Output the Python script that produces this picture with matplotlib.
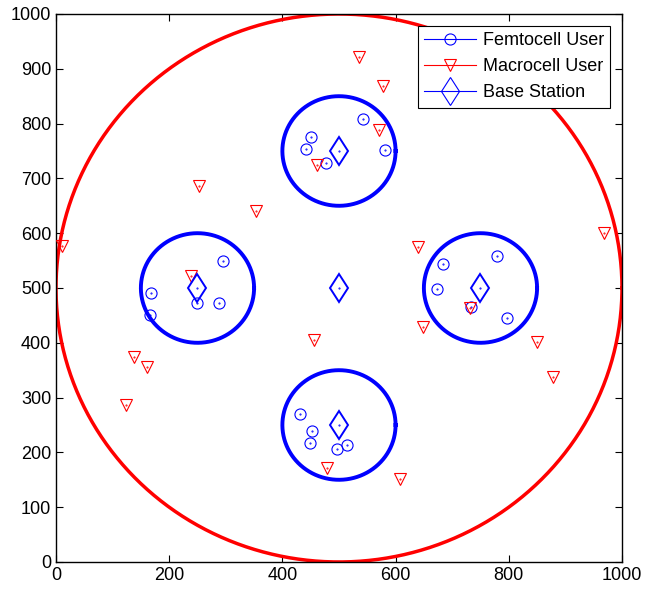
import numpy as np
import matplotlib
matplotlib.use('Agg')
import matplotlib.pyplot as plt
from matplotlib.lines import Line2D

plt.rcParams['font.family'] = ['Liberation Sans', 'DejaVu Sans']

# femtocell users
femto_x = [442, 450, 477, 542, 581, 168, 166, 249, 288, 295,
           684, 674, 780, 734, 796, 431, 452, 448, 496, 515]
femto_y = [754, 776, 728, 809, 751, 491, 450, 473, 473, 549,
           543, 499, 559, 465, 445, 270, 239, 218, 206, 214]

# macrocell users
macro_x = [11, 253, 353, 238, 137, 161, 124, 535, 578, 571,
           462, 640, 969, 649, 731, 850, 878, 608, 478, 456]
macro_y = [577, 686, 641, 521, 374, 355, 287, 922, 869, 788,
           725, 574, 600, 429, 463, 402, 338, 151, 171, 405]

# base stations: macro BS in the middle, four femto BS around it
bs_x = [500, 500, 250, 750, 500]
bs_y = [500, 750, 500, 500, 250]

macro_radius = 500
femto_radius = 100

fig = plt.figure(figsize=(6.57, 5.93), dpi=100)
ax = fig.add_axes([0.0852, 0.0523, 0.8615, 0.9241])

th = np.linspace(0, 2 * np.pi, 400)
ax.plot(bs_x[0] + macro_radius * np.cos(th), bs_y[0] + macro_radius * np.sin(th),
        color='red', lw=2.5, zorder=2)
for cx, cy in zip(bs_x[1:], bs_y[1:]):
    ax.plot(cx + femto_radius * np.cos(th), cy + femto_radius * np.sin(th),
            color='blue', lw=2.8, zorder=2)

ax.plot(femto_x, femto_y, 'o', mfc='none', mec='blue', ms=8, mew=0.8, zorder=3)
ax.plot(macro_x, macro_y, 'v', mfc='none', mec='red', ms=9, mew=0.8, zorder=3)
ax.plot(bs_x, bs_y, 'd', mfc='none', mec='blue', ms=14.5, mew=1.4, zorder=3)
# tiny center dots like the matlab render
ax.plot(femto_x + bs_x, femto_y + bs_y, '.', color='blue', ms=1, zorder=4)
ax.plot(macro_x, macro_y, '.', color='red', ms=1, zorder=4)

ax.set_xlim(0, 1000)
ax.set_ylim(0, 1000)
ax.set_xticks(range(0, 1001, 200))
ax.set_yticks(range(0, 1001, 100))
ax.tick_params(direction='in', length=5, top=True, right=True, labelsize=13, width=0.8)
for s in ax.spines.values():
    s.set_linewidth(1.0)

handles = [
    Line2D([], [], color='blue', lw=0.8, marker='o', mfc='none', ms=8, mew=0.8),
    Line2D([], [], color='red', lw=0.8, marker='v', mfc='none', ms=9, mew=0.8),
    Line2D([], [], color='blue', lw=0.8, marker='d', mfc='none', ms=14.5, mew=0.8),
]
leg = ax.legend(handles, ['Femtocell User', 'Macrocell User', 'Base Station'],
                loc='upper right', bbox_to_anchor=(0.979, 0.978), fontsize=13,
                handlelength=2.9, fancybox=False, framealpha=1, edgecolor='black',
                borderpad=0.35, labelspacing=0.5, handletextpad=0.35, borderaxespad=0)
leg.get_frame().set_linewidth(0.8)
leg.set_zorder(10)

fig.savefig('out.png', dpi=100)
